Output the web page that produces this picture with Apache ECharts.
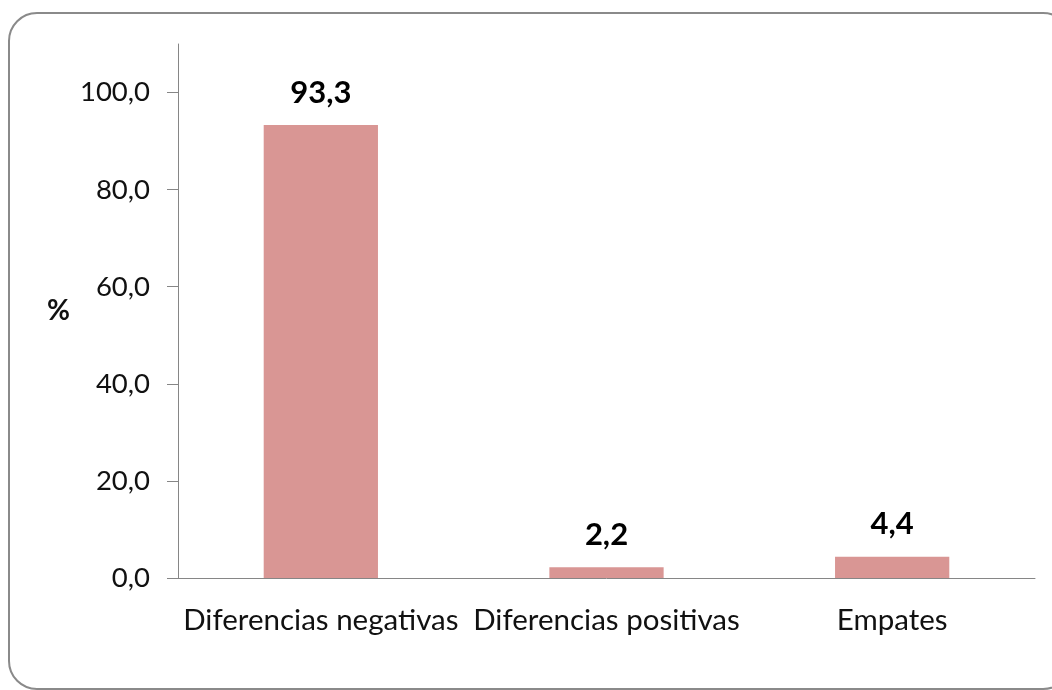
<!DOCTYPE html>
<html>
<head>
<meta charset="utf-8">
<script src="https://cdn.jsdelivr.net/npm/echarts@6/dist/echarts.min.js"></script>
<style>
html,body{margin:0;padding:0;background:#fff;}
#chart{width:1052px;height:690px;}
</style>
</head>
<body>
<div id="chart"></div>
<script>
const categories = ['Diferencias negativas', 'Diferencias positivas', 'Empates'];
const values = [93.3, 2.2, 4.4];
const yTicks = [0, 20, 40, 60, 80, 100];
const yAxisName = '%';

const FONT = 'Lato';
const fmt = v => Number(v).toFixed(1).replace('.', ',');

const chart = echarts.init(document.getElementById('chart'));
chart.setOption({
  animation: false,
  backgroundColor: '#ffffff',
  textStyle: { fontFamily: FONT },
  graphic: [{
    type: 'rect',
    shape: { x: 9, y: 13, width: 1062, height: 676, r: 28 },
    style: { fill: 'none', stroke: '#8a8a8a', lineWidth: 2 },
    silent: true, z: -10
  }],
  grid: { left: 178, right: 17, top: 44, bottom: 112 },
  xAxis: {
    type: 'category',
    data: categories,
    axisLine: { lineStyle: { color: '#868686', width: 1 } },
    axisTick: { show: false },
    axisLabel: { color: '#111', fontSize: 29.5, fontFamily: FONT, margin: 27, interval: 0 }
  },
  yAxis: {
    type: 'value',
    min: 0, max: 110,
    name: yAxisName,
    nameLocation: 'middle',
    nameRotate: 0,
    nameGap: 108,
    nameTextStyle: { color: '#111', fontSize: 28, fontWeight: 'bold', fontFamily: FONT, align: 'right' },
    splitLine: { show: false },
    axisLine: { show: true, lineStyle: { color: '#868686', width: 1 } },
    axisTick: { show: true, length: 11, customValues: yTicks, lineStyle: { color: '#868686' } },
    axisLabel: { customValues: yTicks, formatter: v => fmt(v), color: '#111', fontSize: 27.5, fontFamily: FONT, margin: 28 }
  },
  series: [{
    type: 'bar',
    data: values,
    barWidth: '40%',
    itemStyle: { color: '#D99694' },
    label: {
      show: true, position: 'top', distance: 17,
      formatter: p => fmt(p.value),
      color: '#000', fontSize: 31, fontWeight: 'bold', fontFamily: FONT
    }
  }]
});
</script>
</body>
</html>
